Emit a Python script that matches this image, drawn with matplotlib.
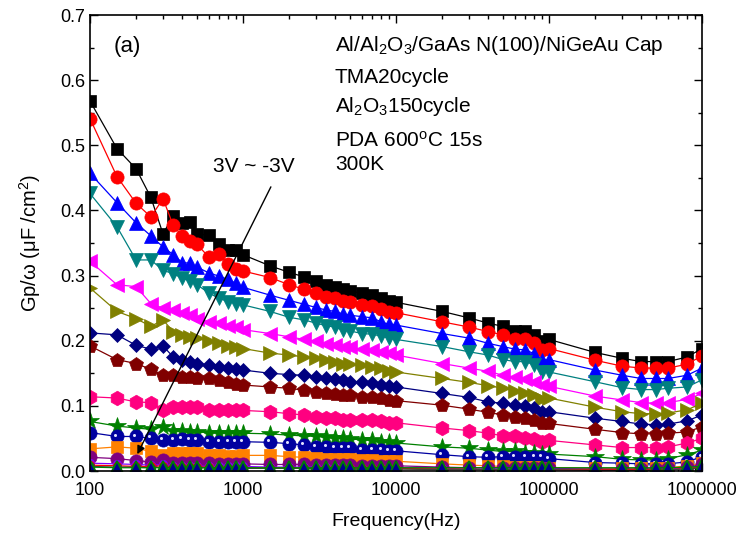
import matplotlib
matplotlib.use("Agg")
import matplotlib.pyplot as plt
from matplotlib.ticker import FixedLocator, FuncFormatter, MultipleLocator
from matplotlib.transforms import offset_copy

plt.rcParams['font.family'] = ['Liberation Sans', 'DejaVu Sans']
plt.rcParams['mathtext.fontset'] = 'custom'
plt.rcParams['mathtext.rm'] = 'Liberation Sans'
plt.rcParams['mathtext.default'] = 'regular'

freq = [100, 150, 200, 250, 300, 350, 400, 450, 500, 600, 700, 800, 900, 1000,
        1500, 2000, 2500, 3000, 3500, 4000, 4500, 5000, 6000, 7000, 8000, 9000, 10000,
        20000, 30000, 40000, 50000, 60000, 70000, 80000, 90000, 100000,
        200000, 300000, 400000, 500000, 600000, 800000, 1000000]

s_black = [.568, .495, .464, .420, .364, .392, .380, .383, .364, .362, .348, .340, .340, .332,
           .315, .305, .298, .292, .285, .283, .279, .276, .273, .270, .265, .261, .259,
           .245, .235, .227, .222, .215, .215, .209, .199, .202,
           .182, .173, .168, .168, .168, .175, .188]
s_red = [.541, .452, .411, .390, .418, .377, .361, .353, .348, .328, .333, .317, .310, .307,
         .297, .286, .279, .274, .267, .265, .261, .260, .255, .253, .248, .244, .243,
         .229, .221, .214, .209, .202, .202, .196, .186, .188,
         .170, .161, .158, .158, .158, .164, .177]
s_blue = [.457, .412, .381, .361, .344, .332, .320, .319, .313, .304, .299, .294, .288, .282,
          .270, .262, .256, .251, .247, .245, .241, .239, .237, .235, .229, .225, .224,
          .211, .204, .196, .191, .187, .186, .180, .170, .171,
          .155, .147, .142, .142, .142, .147, .158]
s_teal = [.426, .375, .324, .324, .308, .303, .296, .292, .286, .273, .265, .260, .257, .255,
          .245, .236, .232, .227, .223, .221, .216, .215, .211, .210, .207, .204, .202,
          .191, .183, .178, .171, .168, .168, .163, .152, .152,
          .137, .128, .125, .125, .127, .129, .140]
s_magenta = [.322, .286, .283, .257, .250, .247, .242, .239, .234, .229, .227, .222, .221, .217,
             .211, .206, .202, .199, .195, .193, .191, .190, .187, .186, .183, .181, .178,
             .165, .158, .153, .147, .144, .141, .137, .132, .130,
             .115, .109, .105, .104, .105, .110, .119]
s_olive = [.281, .245, .234, .222, .232, .214, .209, .206, .204, .199, .196, .192, .190, .188,
           .181, .178, .175, .173, .170, .168, .165, .164, .163, .160, .158, .154, .152,
           .142, .136, .131, .127, .123, .120, .117, .110, .112,
           .098, .091, .088, .088, .089, .094, .104]
s_navy = [.212, .209, .193, .187, .192, .175, .170, .168, .165, .163, .160, .158, .157, .155,
          .150, .148, .147, .145, .142, .141, .139, .137, .136, .135, .132, .130, .129,
          .119, .113, .106, .104, .101, .100, .096, .091, .091,
          .081, .076, .072, .071, .072, .077, .086]
s_maroon = [.192, .171, .165, .156, .147, .147, .145, .144, .142, .142, .140, .136, .134, .132,
            .129, .127, .124, .122, .119, .118, .117, .117, .114, .114, .112, .109, .108,
            .101, .095, .090, .086, .083, .082, .078, .073, .073,
            .064, .059, .057, .057, .058, .060, .068]
s_pink = [.114, .112, .106, .105, .094, .099, .098, .098, .098, .094, .093, .093, .093, .093,
          .091, .088, .086, .083, .082, .081, .079, .079, .078, .078, .076, .074, .074,
          .066, .062, .058, .054, .053, .050, .049, .045, .047,
          .040, .036, .036, .036, .037, .043, .050]
s_green = [.076, .069, .066, .064, .068, .062, .062, .060, .060, .059, .059, .058, .058, .058,
           .057, .055, .054, .053, .052, .050, .050, .049, .048, .047, .045, .045, .043,
           .037, .035, .032, .030, .030, .028, .028, .026, .026,
           .022, .018, .017, .017, .019, .025, .032]
s_sphere = [.059, .053, .053, .050, .048, .048, .049, .048, .048, .045, .045, .045, .045, .045,
            .044, .042, .040, .037, .037, .036, .036, .035, .033, .033, .032, .031, .031,
            .025, .022, .021, .022, .022, .022, .021, .021, .019,
            .013, .012, .011, .011, .011, .014, .022]
s_orange = [.034, .037, .035, .030, .025, .028, .028, .027, .027, .025, .025, .023, .023, .024,
            .024, .022, .021, .020, .019, .019, .018, .018, .017, .017, .016, .016, .015,
            .011, .009, .008, .007, .006, .006, .006, .005, .005,
            .004, .004, .004, .004, .005, .008, .012]
s_purple = [.021, .019, .016, .014, .017, .013, .013, .012, .012, .012, .011, .011, .011, .011,
            .010, .010, .010, .009, .009, .009, .009, .009, .008, .008, .008, .008, .008,
            .006, .005, .005, .005, .004, .004, .004, .004, .004,
            .003, .003, .003, .003, .004, .006, .010]
s_violet = [.012, .011, .010, .009, .010, .008, .008, .008, .008, .007, .007, .007, .007, .007,
            .006, .006, .006, .006, .006, .006, .005, .005, .005, .005, .005, .005, .005,
            .004, .003, .003, .003, .003, .003, .003, .003, .003,
            .002, .002, .002, .002, .003, .005, .008]
s_red2 = [.009, .008, .007, .007, .008, .006, .006, .006, .006, .006, .005, .005, .005, .005,
          .005, .005, .004, .004, .004, .004, .004, .004, .004, .004, .004, .004, .004,
          .003, .003, .002, .002, .002, .002, .002, .002, .002,
          .002, .002, .002, .002, .002, .004, .006]
s_gray = [.007, .006, .006, .005, .006, .005, .005, .005, .005, .005, .004, .004, .004, .004,
          .004, .004, .004, .003, .003, .003, .003, .003, .003, .003, .003, .003, .003,
          .002, .002, .002, .002, .002, .002, .002, .002, .002,
          .001, .001, .001, .001, .002, .003, .005]
s_tri = [.006, .005, .005, .005, .005, .005, .005, .005, .005, .005, .005, .005, .005, .005,
         .005, .005, .005, .005, .005, .005, .005, .005, .005, .005, .005, .005, .005,
         .005, .005, .005, .005, .005, .005, .005, .005, .005,
         .005, .005, .005, .005, .005, .006, .007]

# (values, colour, marker, marker size)
series = [
    (s_black, '#000000', 's', 8),
    (s_red, '#FF0000', 'o', 9.5),
    (s_blue, '#0000FF', '^', 10),
    (s_teal, '#008080', 'v', 10),
    (s_magenta, '#FF00FF', '<', 10),
    (s_olive, '#808000', '>', 10),
    (s_navy, '#000080', 'D', 7.5),
    (s_maroon, '#800000', 'p', 10.5),
    (s_pink, '#FF0080', 'h', 10.5),
    (s_green, '#008000', '*', 13),
    (s_sphere, '#0000A0', 'o', 9.5),
    (s_orange, '#FF8000', 's', 8),
    (s_purple, '#800080', 'o', 9.5),
    (s_violet, '#8000FF', 'o', 6),
    (s_red2, '#FF0000', 'o', 6),
    (s_gray, '#404040', 'o', 6),
    (s_tri, '#008000', '^', 10),
]

fig = plt.figure(figsize=(7.41, 5.47), dpi=100)
ax = fig.add_axes([90/741, 76/547, 612/741, 456/547])

for vals, col, mk, ms in series:
    mfc = col
    mew = 0.5
    if vals is s_tri:
        mfc = '#000090'
        mew = 1.3
    ax.plot(freq, vals, color=col, lw=0.9, marker=mk, ms=ms, mfc=mfc, mec=col, mew=mew)
    if vals is s_sphere:
        tr = offset_copy(ax.transData, fig=fig, x=-1.2, y=1.4, units='points')
        ax.plot(freq, vals, ls='none', marker='o', ms=2.2, mfc='#E0E0FF', mec='none', transform=tr)

ax.set_xscale('log')
ax.set_xlim(100, 1000000)
ax.set_ylim(0, 0.7)
ax.xaxis.set_major_locator(FixedLocator([100, 1000, 10000, 100000, 1000000]))
ax.xaxis.set_major_formatter(FuncFormatter(lambda v, p: '%d' % round(v)))
ax.yaxis.set_major_locator(MultipleLocator(0.1))
ax.yaxis.set_minor_locator(MultipleLocator(0.05))
ax.yaxis.set_major_formatter(FuncFormatter(lambda v, p: '%.1f' % v))
ax.tick_params(which='both', direction='in', top=True, right=True, labelsize=13, width=1)
ax.tick_params(which='major', length=6)
ax.tick_params(which='minor', length=3)
ax.tick_params(axis='x', which='major', pad=8)
for sp in ax.spines.values():
    sp.set_linewidth(1.2)

ax.set_xlabel('Frequency(Hz)', fontsize=14, labelpad=10)
ax.set_ylabel('Gp/ω (μF /cm$^{2}$)', fontsize=14.5, labelpad=12)

ax.text(0.038, 0.93, '(a)', transform=ax.transAxes, fontsize=16, va='center', ha='left')
tx = 0.40
fs = 15
ax.text(tx, 0.934, 'Al/Al$_{2}$O$_{3}$/GaAs N(100)/NiGeAu Cap', transform=ax.transAxes, fontsize=fs, va='center')
ax.text(tx, 0.862, 'TMA20cycle', transform=ax.transAxes, fontsize=fs, va='center')
ax.text(tx, 0.800, 'Al$_{2}$O$_{3}$150cycle', transform=ax.transAxes, fontsize=fs, va='center')
ax.text(tx, 0.725, 'PDA 600$^{o}$C 15s', transform=ax.transAxes, fontsize=fs, va='center')
ax.text(tx, 0.673, '300K', transform=ax.transAxes, fontsize=fs, va='center')

ax.text(0.201, 0.667, '3V ~ -3V', transform=ax.transAxes, fontsize=fs, va='center')
ax.annotate('', xy=(200, 0.022), xytext=(1550, 0.44),
            arrowprops=dict(arrowstyle='-|>', color='black', lw=1.0, mutation_scale=12))

fig.savefig('out.png', dpi=100)
